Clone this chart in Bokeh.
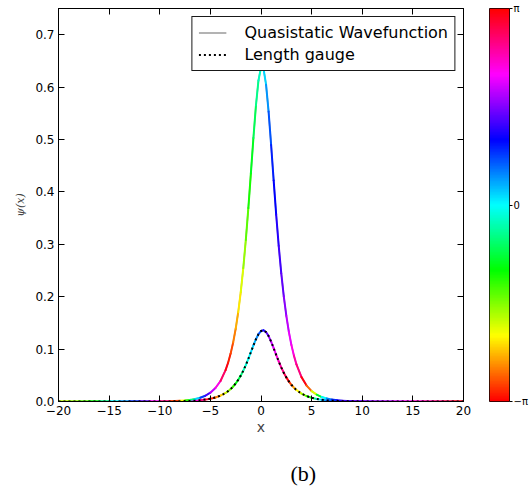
import math
import colorsys
import numpy as np
from bokeh.plotting import figure
from bokeh.models import (LinearAxis, FixedTicker, PrintfTickFormatter, Legend, LegendItem,
                          ColumnDataSource, LinearColorMapper, Range1d)
from bokeh.layouts import row, column
from bokeh.transform import linear_cmap
from bokeh.core.properties import value
from bokeh.embed import file_html
from bokeh.resources import INLINE

# ---------------- data ----------------
x_vals = [-20, -19, -18, -17, -16, -15, -14, -13, -12, -11, -10, -9, -8,
          -7.5, -7, -6.5, -6, -5.5, -5, -4.5, -4, -3.5,
          -3.25, -3, -2.75, -2.5, -2.25, -2, -1.75, -1.5, -1.25, -1, -0.75, -0.5, -0.25,
          0, 0.25, 0.5, 0.75, 1, 1.25, 1.5, 1.75, 2, 2.25, 2.5, 2.75, 3, 3.25,
          3.5, 4, 4.5, 5, 5.5, 6, 6.5, 7, 7.5, 8,
          9, 10, 11, 12, 13, 14, 15, 16, 17, 18, 19, 20]

quasistatic_abs = [0.0, 0.0, 0.0, 0.0, 0.0, 0.0, 0.0, 0.0, 0.0, 0.0001, 0.0002, 0.0006, 0.0013,
                   0.0020, 0.0031, 0.0047, 0.0072, 0.0110, 0.0168, 0.0257, 0.0392, 0.0599,
                   0.0740, 0.0914, 0.1127, 0.1388, 0.1705, 0.2089, 0.2546, 0.3082, 0.3691, 0.4354,
                   0.5029, 0.5649, 0.6127,
                   0.6377, 0.6348, 0.6047, 0.5533, 0.4896, 0.4219, 0.3564, 0.2969, 0.2449, 0.2007,
                   0.1637, 0.1331, 0.1081, 0.0876,
                   0.0709, 0.0465, 0.0304, 0.0199, 0.0130, 0.0085, 0.0056, 0.0036, 0.0024, 0.0016,
                   0.0007, 0.0003, 0.0001, 0.0, 0.0, 0.0, 0.0, 0.0, 0.0, 0.0, 0.0, 0.0]

quasistatic_phase = [-1.83, -1.66, -1.40, -1.05, -0.52, 0.00, 0.44, 0.87, 1.40, 2.09, 2.62, -2.88, -2.09,
                     -1.22, -0.52, 0.17, 0.79, 1.31, 1.83, 2.18, 2.71, 3.05,
                     -3.00, -2.83, -2.62, -2.41, -2.18, -1.95, -1.66, -1.40, -1.13, -0.91, -0.70, -0.49, -0.26,
                     -0.05, 0.17, 0.44, 0.70, 0.91, 1.05, 1.19, 1.31, 1.43, 1.61, 1.83, 2.01, 2.18, 2.41,
                     2.62, 3.05, -2.71, -1.92, -0.87, 0.00, 0.52, 0.87, 1.13, 1.31,
                     1.48, 1.57, 1.66, 1.75, 1.92, 2.09, 2.27, 2.44, 2.62, 2.79, 2.97, 3.05]

length_abs = [0.0, 0.0, 0.0, 0.0, 0.0, 0.0, 0.0, 0.0, 0.0, 0.0, 0.0001, 0.0002, 0.0005,
              0.0008, 0.0011, 0.0017, 0.0024, 0.0036, 0.0052, 0.0076, 0.0112, 0.0163,
              0.0197, 0.0237, 0.0286, 0.0344, 0.0413, 0.0494, 0.0588, 0.0695, 0.0814, 0.0941,
              0.1069, 0.1188, 0.1284,
              0.1344, 0.1359, 0.1325, 0.1249, 0.1142, 0.1018, 0.0889, 0.0765, 0.0650, 0.0548,
              0.0460, 0.0384, 0.0319, 0.0265,
              0.0220, 0.0151, 0.0103, 0.0071, 0.0048, 0.0033, 0.0023, 0.0015, 0.0011, 0.0007,
              0.0003, 0.0002, 0.0001, 0.0, 0.0, 0.0, 0.0, 0.0, 0.0, 0.0, 0.0, 0.0]

length_phase = [-1.83, -1.66, -1.40, -1.05, -0.52, 0.00, 0.44, 0.87, 1.40, 2.09, 2.62, -2.88, -2.09,
                1.57, 1.92, 2.27, 2.62, 2.97, -2.97, -2.62, -2.27, -1.83,
                -1.61, -1.40, -1.19, -0.96, -0.73, -0.52, -0.31, -0.14, 0.00, 0.14, 0.31, 0.49, 0.70,
                0.96, 1.19, 1.43, 1.69, 1.88, 2.06, 2.23, 2.41, 2.58, 2.79, 3.05, -2.93, -2.62, -2.36,
                -2.09, -1.66, -1.13, -0.52, 0.09, 0.44, 0.70, 0.87, 1.13, 1.31,
                1.48, 1.57, 1.66, 1.75, 1.92, 2.09, 2.27, 2.44, 2.62, 2.79, 2.97, 3.05]

x_ticks = [-20, -15, -10, -5, 0, 5, 10, 15, 20]
x_tick_labels = ["\u221220", "\u221215", "\u221210", "\u22125", "0", "5", "10", "15", "20"]
y_ticks = [0.0, 0.1, 0.2, 0.3, 0.4, 0.5, 0.6, 0.7]
phase_ticks = [-math.pi, 0.0, math.pi]
phase_tick_labels = ["\u2212\u03c0", "0", "\u03c0"]

series_labels = ["Quasistatic Wavefunction", "Length gauge"]
caption = "(b)"

# hsv colormap (-pi red ... 0 cyan ... pi red)
palette = []
for i in range(256):
    r, g, b = colorsys.hsv_to_rgb(i / 255.0, 1.0, 1.0)
    palette.append("#%02x%02x%02x" % (int(round(r * 255)), int(round(g * 255)), int(round(b * 255))))


def seg_source(xs, ys, ph):
    xs = np.asarray(xs, float); ys = np.asarray(ys, float); ph = np.asarray(ph, float)
    return ColumnDataSource(dict(x0=xs[:-1], x1=xs[1:], y0=ys[:-1], y1=ys[1:], phase=ph[:-1]))


FRAME_W, FRAME_H = 405, 393
TOP = 8
BOTTOM = 40

p = figure(frame_width=FRAME_W, frame_height=FRAME_H,
           x_range=Range1d(-20, 20), y_range=Range1d(0, 0.75),
           output_backend="svg", toolbar_location=None,
           min_border_left=58, min_border_right=18, min_border_top=TOP, min_border_bottom=BOTTOM,
           outline_line_color="black", outline_line_width=1,
           background_fill_color="white", border_fill_color="white")
p.grid.visible = False

cmap = linear_cmap("phase", palette, -math.pi, math.pi)

r_gray = p.line(x_vals, quasistatic_abs, line_color="#9a9a9a", line_width=1.5)
p.segment("x0", "y0", "x1", "y1", source=seg_source(x_vals, length_abs, length_phase),
          line_color=cmap, line_width=2, line_cap="round")
p.segment("x0", "y0", "x1", "y1", source=seg_source(x_vals, quasistatic_abs, quasistatic_phase),
          line_color=cmap, line_width=2, line_cap="round")
r_dot = p.line(x_vals, length_abs, line_color="black", line_width=2, line_dash="2 3")

tick_font = "DejaVu Sans"
tick_size = "12px"

xa = p.xaxis[0]
xa.ticker = FixedTicker(ticks=x_ticks)
xa.major_label_overrides = dict(zip(x_ticks, x_tick_labels))
ya = p.yaxis[0]
ya.ticker = FixedTicker(ticks=y_ticks)
ya.formatter = PrintfTickFormatter(format="%.1f")
for ax in (xa, ya):
    ax.major_tick_in = 6
    ax.major_tick_out = 0
    ax.minor_tick_line_color = None
    ax.major_label_text_font = tick_font
    ax.major_label_text_font_size = tick_size
    ax.major_label_text_color = "black"
    ax.axis_line_color = "black"
    ax.major_tick_line_color = "black"
    ax.major_label_standoff = 4

xa.axis_label = "x"
xa.axis_label_text_font = tick_font
xa.axis_label_text_font_size = "14px"
xa.axis_label_text_font_style = "normal"
xa.axis_label_standoff = 1

ya.axis_label = "\u03c8(x)"
ya.axis_label_text_font = "DejaVu Serif"
ya.axis_label_text_font_style = "italic"
ya.axis_label_text_font_size = "11px"
ya.axis_label_standoff = 5

top_ax = LinearAxis(ticker=FixedTicker(ticks=x_ticks), major_label_text_font_size="1px",
                    major_label_text_color=None,
                    major_tick_in=6, major_tick_out=0, minor_tick_line_color=None,
                    major_label_standoff=0, axis_line_color="black")
right_ax = LinearAxis(ticker=FixedTicker(ticks=y_ticks), major_label_text_font_size="1px",
                      major_label_text_color=None,
                      major_tick_in=6, major_tick_out=0, minor_tick_line_color=None,
                      major_label_standoff=0, axis_line_color="black")
p.add_layout(top_ax, "above")
p.add_layout(right_ax, "right")

legend = Legend(items=[LegendItem(label=series_labels[0], renderers=[r_gray]),
                       LegendItem(label=series_labels[1], renderers=[r_dot])],
                location="top_right", margin=8, padding=6, spacing=3,
                label_height=19, glyph_height=19, glyph_width=28, label_standoff=18,
                label_text_font="DejaVu Sans", label_text_font_size="16px",
                label_text_color="black",
                border_line_color="black", border_line_width=1, border_line_alpha=0.9,
                background_fill_color="white", background_fill_alpha=1.0)
p.add_layout(legend)

# ---------------- colour bar ----------------
cb = figure(frame_width=20, frame_height=FRAME_H,
            x_range=Range1d(0, 1), y_range=Range1d(-math.pi, math.pi),
            output_backend="svg", toolbar_location=None,
            x_axis_location=None, y_axis_location=None,
            min_border_left=8, min_border_right=21, min_border_top=TOP, min_border_bottom=BOTTOM,
            outline_line_color="black", outline_line_width=1,
            background_fill_color="white", border_fill_color="white")
cb.grid.visible = False
grad = np.linspace(-math.pi, math.pi, 256).reshape(256, 1)
cb.image(image=[grad], x=0, y=-math.pi, dw=1, dh=2 * math.pi,
         color_mapper=LinearColorMapper(palette=palette, low=-math.pi, high=math.pi))
cb_ax = LinearAxis(ticker=FixedTicker(ticks=phase_ticks),
                   major_label_overrides=dict(zip(phase_ticks, phase_tick_labels)),
                   major_label_text_font="DejaVu Sans", major_label_text_font_size="10px",
                   major_label_text_color="black",
                   major_tick_in=0, major_tick_out=3, minor_tick_line_color=None,
                   major_label_standoff=1, axis_line_color=None, major_tick_line_color="black")
cb.add_layout(cb_ax, "right")

# ---------------- caption ----------------
capfig = figure(width=522, height=47, x_range=Range1d(0, 1), y_range=Range1d(0, 1),
                output_backend="svg", toolbar_location=None,
                x_axis_location=None, y_axis_location=None, min_border=0,
                outline_line_color=None, background_fill_color="white", border_fill_color="white")
capfig.grid.visible = False
capfig.text(x=[0.58], y=[0.32], text=[caption], text_align="center", text_baseline="middle",
            text_font=value("Liberation Serif"), text_font_size=value("22px"), text_color="black")

layout = column(row(p, cb), capfig)
open("out.html", "w").write(file_html(layout, INLINE))
